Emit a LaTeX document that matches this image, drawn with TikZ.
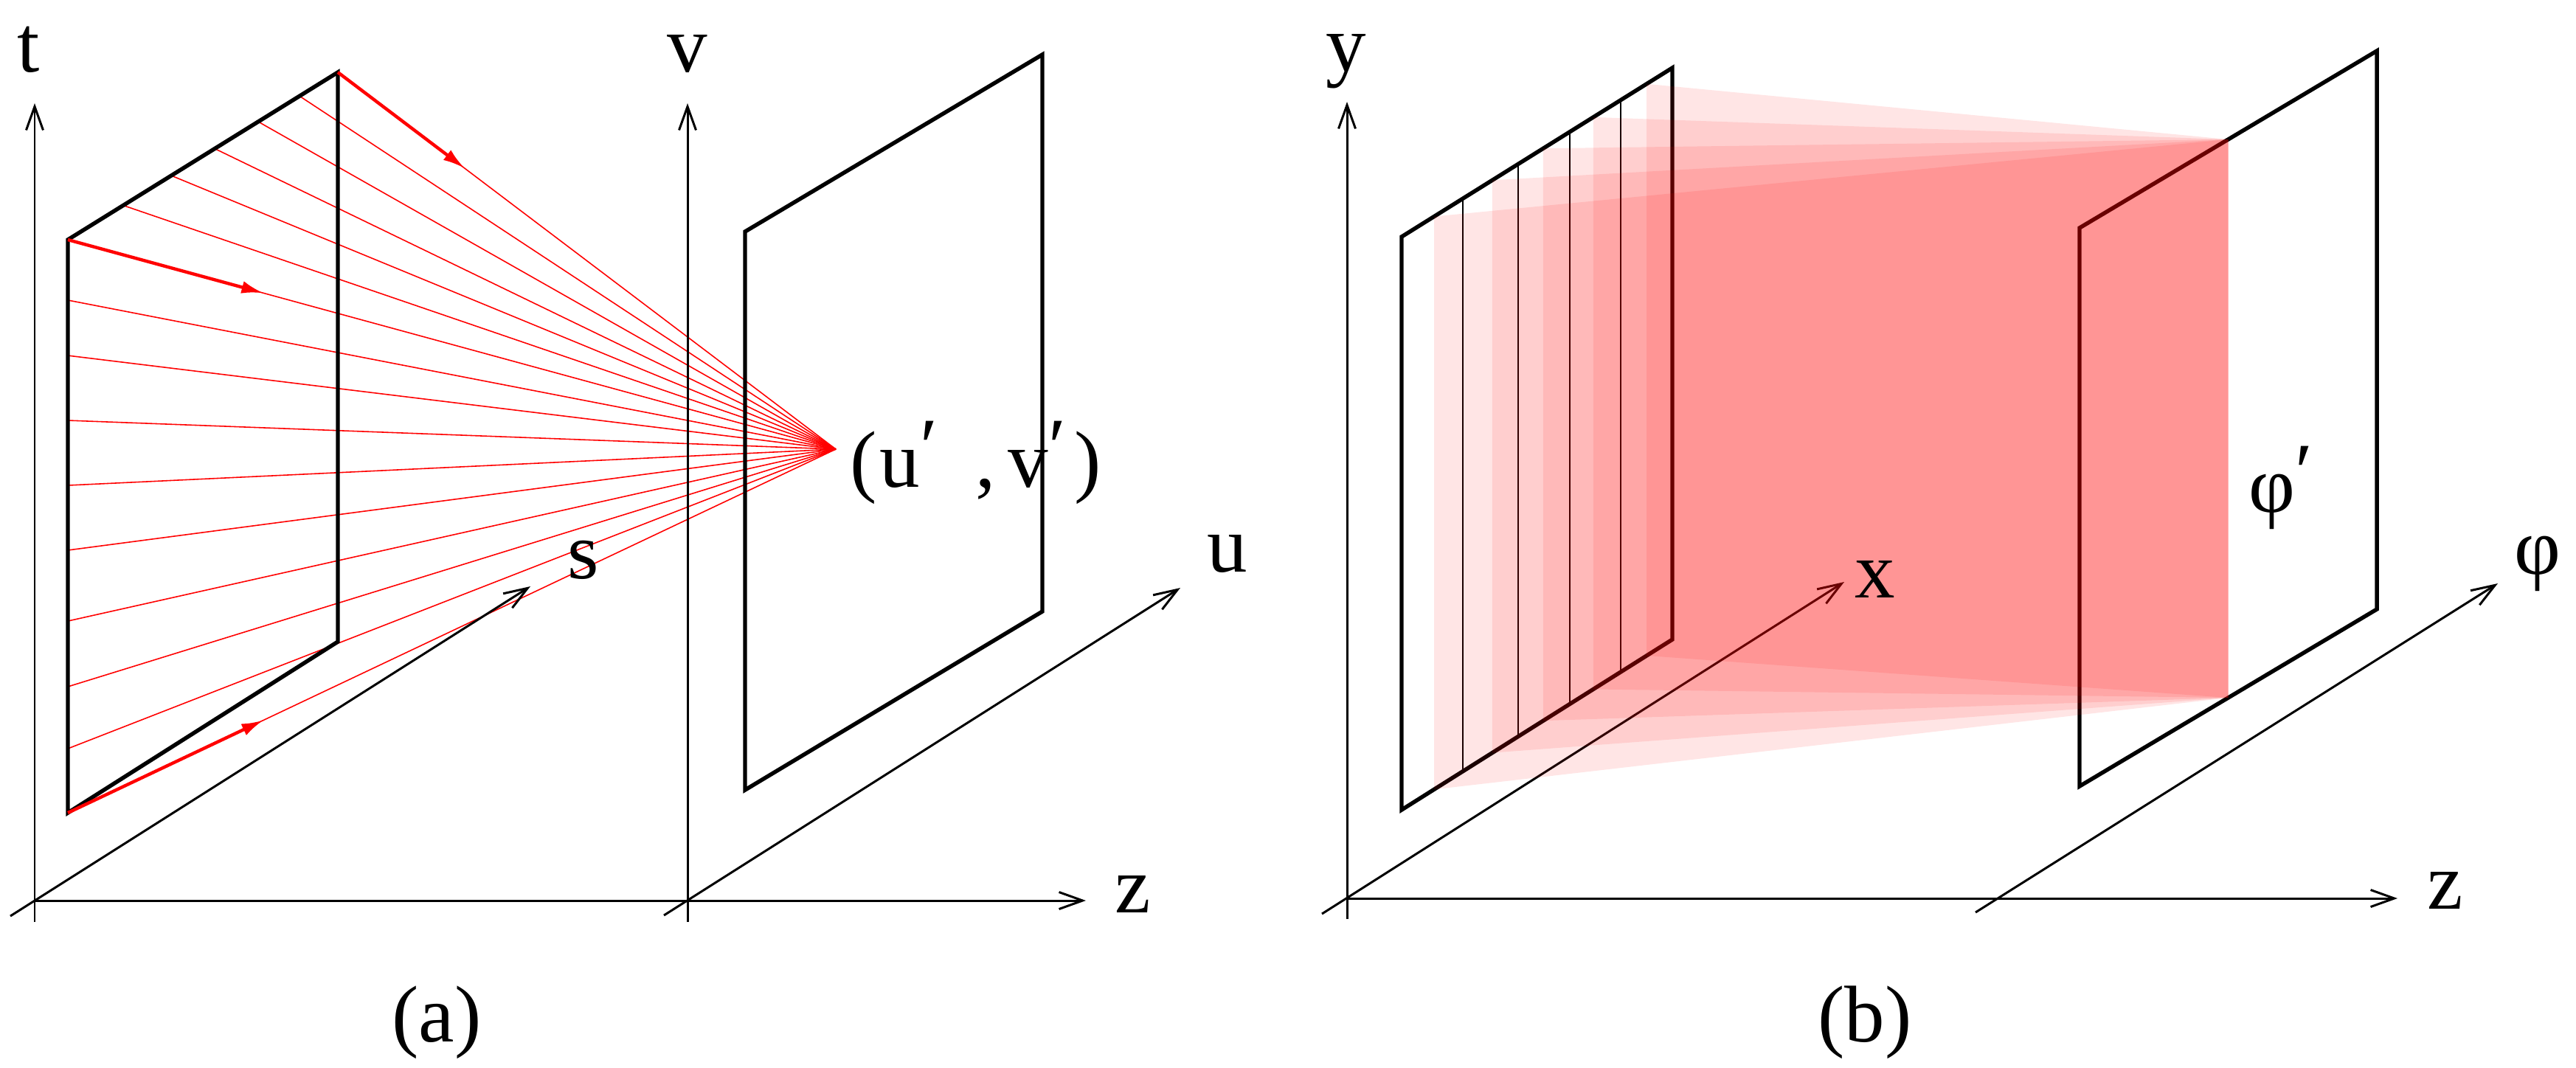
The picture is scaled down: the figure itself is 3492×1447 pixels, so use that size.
\documentclass[tikz,border=0pt]{standalone}
\usepackage{fontspec}
\setmainfont{Liberation Serif}
\usetikzlibrary{arrows.meta,calc}
\newcommand{\rprime}{\raisebox{0.18cm}{′}}
\begin{document}
\begin{tikzpicture}[x=0.01cm,y=-0.01cm,
  axis/.style={line width=0.85pt,-{Straight Barb[length=0.32cm,width=0.23cm]}},
  frame/.style={line width=1.55pt,line join=miter},
  ray/.style={red,line width=0.45pt},
  rayarrow/.style={red,line width=1.25pt,-{Latex[length=0.3cm,width=0.17cm]}},
  layer/.style={fill=red,fill opacity=0.1},
  vline/.style={line width=0.45pt},
  lbl/.style={inner sep=0pt,anchor=base,font=\fontsize{31}{36}\selectfont},
]
\useasboundingbox (0,0) rectangle (3492,1447);

% ---------------- panel (a) ----------------
\coordinate (aO) at (47,1221);
\coordinate (aTbot) at (47,1250);
\coordinate (aTtop) at (47,140);
\coordinate (aZend) at (1472,1221);
\coordinate (aSstart) at (14,1242);
\coordinate (aSend) at (719,795);
\coordinate (aVbot) at (932,1250);
\coordinate (aVtop) at (932,140);
\coordinate (aUstart) at (900,1241);
\coordinate (aUend) at (1600,797);

\coordinate (A1) at (92,1102);
\coordinate (A2) at (92,325);
\coordinate (A3) at (458,98);
\coordinate (A4) at (458,870);
\coordinate (B1) at (1010,1071);
\coordinate (B2) at (1010,314);
\coordinate (B3) at (1413,74);
\coordinate (B4) at (1413,829);
\coordinate (F) at (1133,609);

% rays
\foreach \f in {0.205,0.383,0.544,0.705,0.858}
  \draw[ray] ($(A2)!\f!(A3)$) -- (F);
\foreach \f in {0.1055,0.2021,0.3153,0.4286,0.5418,0.6654,0.7799,0.8880}
  \draw[ray] ($(A2)!\f!(A1)$) -- (F);
\draw[ray] (A1) -- (F);
\draw[ray] (A2) -- (F);
\draw[ray] (A3) -- (F);

% axes
\draw[axis] (aTbot) -- (aTtop);
\draw[axis] (aO) -- (aZend);
\draw[axis] (aSstart) -- (aSend);
\draw[axis] (aVbot) -- (aVtop);
\draw[axis] (aUstart) -- (aUend);

% planes
\draw[frame] (A1) -- (A2) -- (A3) -- (A4) -- cycle;
\draw[frame] (B1) -- (B2) -- (B3) -- (B4) -- cycle;

% thick ray arrows
\draw[rayarrow] (A3) -- ($(A3)!0.255!(F)$);
\draw[rayarrow] (A2) -- ($(A2)!0.255!(F)$);
\draw[rayarrow] (A1) -- ($(A1)!0.255!(F)$);

% labels
\node[lbl] (lt) at (39,97) {t};
\node[lbl] (lv) at (932,97) {v};
\node[lbl] (ls) at (791,784) {s};
\node[lbl] (lu) at (1664,775) {u};
\node[lbl] (lza) at (1536,1237) {z};
\node[lbl,anchor=base west] (luv) at (1152,660)
  {\makebox[0.40cm][l]{(}\makebox[1.30cm][l]{u\rprime}\makebox[0.44cm][l]{,}\makebox[0.90cm][l]{v\rprime})};
\node[lbl] (la) at (592,1412) {(a)};

% ---------------- panel (b) ----------------
\coordinate (bO) at (1826,1218);
\coordinate (bYbot) at (1826,1246);
\coordinate (bYtop) at (1826,138);
\coordinate (bZend) at (3250,1218);
\coordinate (bXstart) at (1792,1239);
\coordinate (bXend) at (2500,789);
\coordinate (bPstart) at (2678,1237);
\coordinate (bPend) at (3386,791);

\coordinate (C1) at (1900,1098);
\coordinate (C2) at (1900,321);
\coordinate (C3) at (2267,92);
\coordinate (C4) at (2267,867);
\coordinate (D1) at (2819,1066);
\coordinate (D2) at (2819,309);
\coordinate (D3) at (3222,69);
\coordinate (D4) at (3222,826);

\draw[axis] (bYbot) -- (bYtop);
\draw[axis] (bO) -- (bZend);
\draw[axis] (bXstart) -- (bXend);
\draw[axis] (bPstart) -- (bPend);

\draw[frame] (C1) -- (C2) -- (C3) -- (C4) -- cycle;
\draw[frame] (D1) -- (D2) -- (D3) -- (D4) -- cycle;
\foreach \f in {0.226,0.4305,0.6213,0.8093}
  \draw[vline] ($(C2)!\f!(C3)$) -- ($(C1)!\f!(C4)$);

% red layers
\foreach \f in {0.120,0.335,0.523,0.708,0.905}
  \fill[layer] ($(C2)!\f!(C3)$) -- ($(D2)!0.5!(D3)$) -- ($(D1)!0.5!(D4)$) -- ($(C1)!\f!(C4)$) -- cycle;

\node[lbl] (ly) at (1825,96) {y};
\node[lbl] (lx) at (2542,810) {x};
\node[lbl,anchor=base west] (lphip) at (3048,694) {φ\rprime};
\node[lbl] (lphi) at (3440,778) {φ};
\node[lbl] (lzb) at (3315,1232) {z};
\node[lbl] (lb) at (2528,1412) {(b)};
\end{tikzpicture}
\end{document}
